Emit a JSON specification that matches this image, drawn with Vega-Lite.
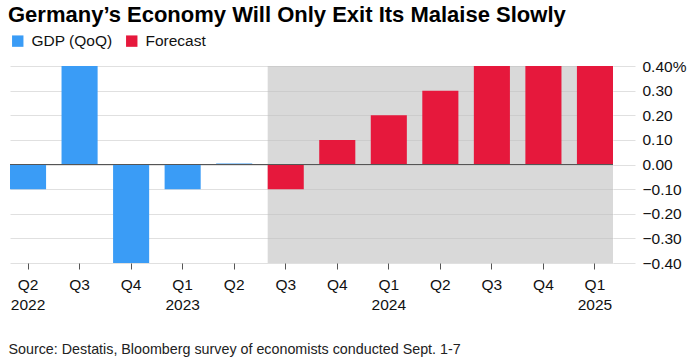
{
  "$schema": "https://vega.github.io/schema/vega-lite/v6.json",
  "autosize": "none",
  "width": 603,
  "height": 197,
  "padding": {"left": 10, "top": 66, "right": 83, "bottom": 100},
  "background": "white",
  "config": {
    "view": {"stroke": null},
    "font": "Liberation Sans",
    "text": {"font": "Liberation Sans"},
    "axisX": {
      "domain": false,
      "grid": false,
      "ticks": true,
      "tickColor": "#555555",
      "tickSize": 6,
      "tickWidth": 1,
      "labelAngle": 0,
      "labelAlign": "center",
      "labelPadding": 8,
      "labelFontSize": 15.5,
      "labelColor": "#111111",
      "labelFont": "Liberation Sans",
      "labelBaseline": "top",
      "labelLineHeight": 20,
      "labelOverlap": false,
      "labelBound": false,
      "labelFlush": false,
      "titleAnchor": "start",
      "titleAlign": "left",
      "titleX": -2,
      "titleY": 90,
      "titleBaseline": "alphabetic",
      "titleFontSize": 14.3,
      "titleFontWeight": "normal",
      "titleColor": "#222222",
      "titleFont": "Liberation Sans"
    },
    "axisY": {
      "domain": false,
      "grid": true,
      "gridColor": "#e0e0e0",
      "gridWidth": 1,
      "ticks": true,
      "tickColor": "#e0e0e0",
      "tickSize": 22,
      "labelPadding": 7,
      "labelOverlap": false,
      "labelFontSize": 15.5,
      "labelColor": "#111111",
      "labelFont": "Liberation Sans"
    }
  },
  "title": {
    "text": "Germany’s Economy Will Only Exit Its Malaise Slowly",
    "anchor": "start",
    "frame": "group",
    "baseline": "alphabetic",
    "offset": -11,
    "dx": -2,
    "fontSize": 22,
    "fontWeight": "bold",
    "font": "Liberation Sans",
    "color": "#000000"
  },
  "datasets": {
    "gdp": [
      {"period": "Q2 2022", "value": -0.1, "type": "GDP (QoQ)"},
      {"period": "Q3 2022", "value": 0.4, "type": "GDP (QoQ)"},
      {"period": "Q4 2022", "value": -0.4, "type": "GDP (QoQ)"},
      {"period": "Q1 2023", "value": -0.1, "type": "GDP (QoQ)"},
      {"period": "Q2 2023", "value": 0.004, "type": "GDP (QoQ)"},
      {"period": "Q3 2023", "value": -0.1, "type": "Forecast"},
      {"period": "Q4 2023", "value": 0.1, "type": "Forecast"},
      {"period": "Q1 2024", "value": 0.2, "type": "Forecast"},
      {"period": "Q2 2024", "value": 0.3, "type": "Forecast"},
      {"period": "Q3 2024", "value": 0.4, "type": "Forecast"},
      {"period": "Q4 2024", "value": 0.4, "type": "Forecast"},
      {"period": "Q1 2025", "value": 0.4, "type": "Forecast"}
    ],
    "shade": [
      {"start": "Q3 2023", "end": "Q1 2025"}
    ]
  },
  "layer": [
    {
      "data": {"name": "shade"},
      "mark": {"type": "rect", "color": "#bebebe", "opacity": 0.58},
      "encoding": {
        "x": {
          "field": "start",
          "type": "ordinal",
          "bandPosition": 0,
          "title": "Source: Destatis, Bloomberg survey of economists conducted Sept. 1-7",
          "axis": {
            "bandPosition": 0.5,
            "labelExpr": "indexof(['Q2 2022','Q1 2023','Q1 2024','Q1 2025'], datum.value) >= 0 ? split(datum.value, ' ') : slice(datum.value, 0, 2)"
          }
        },
        "x2": {"field": "end", "bandPosition": 1},
        "y": {
          "datum": 0.4,
          "type": "quantitative",
          "title": null,
          "axis": {
            "orient": "right",
            "values": [-0.4, -0.3, -0.2, -0.1, 0, 0.1, 0.2, 0.3, 0.4],
            "labelExpr": "datum.value > 0.39 ? '0.40%' : format(datum.value, '.2f')"
          }
        },
        "y2": {"datum": -0.4}
      }
    },
    {
      "data": {"name": "gdp"},
      "mark": {"type": "bar"},
      "encoding": {
        "x": {
          "field": "period",
          "type": "ordinal",
          "sort": null,
          "title": "Source: Destatis, Bloomberg survey of economists conducted Sept. 1-7",
          "scale": {
            "domain": ["Q2 2022", "Q3 2022", "Q4 2022", "Q1 2023", "Q2 2023", "Q3 2023", "Q4 2023", "Q1 2024", "Q2 2024", "Q3 2024", "Q4 2024", "Q1 2025"],
            "paddingInner": 0.3,
            "paddingOuter": 0
          },
          "axis": {
            "bandPosition": 0.5,
            "labelExpr": "indexof(['Q2 2022','Q1 2023','Q1 2024','Q1 2025'], datum.value) >= 0 ? split(datum.value, ' ') : slice(datum.value, 0, 2)"
          }
        },
        "y": {
          "field": "value",
          "type": "quantitative",
          "title": null,
          "scale": {"domain": [-0.4, 0.4], "nice": false, "zero": false},
          "axis": {
            "orient": "right",
            "values": [-0.4, -0.3, -0.2, -0.1, 0, 0.1, 0.2, 0.3, 0.4],
            "labelExpr": "datum.value > 0.39 ? '0.40%' : format(datum.value, '.2f')"
          }
        },
        "color": {
          "field": "type",
          "type": "nominal",
          "scale": {"domain": ["GDP (QoQ)", "Forecast"], "range": ["#3a9cf6", "#e6183c"]},
          "legend": {
            "title": null,
            "orient": "none",
            "legendX": 0,
            "legendY": -33,
            "direction": "horizontal",
            "symbolType": "square",
            "symbolSize": 130,
            "symbolStrokeWidth": 0,
            "labelFontSize": 15.5,
            "labelColor": "#111111",
            "labelFont": "Liberation Sans",
            "labelOffset": 6,
            "columnPadding": 11,
            "padding": 0
          }
        }
      }
    },
    {
      "data": {"name": "gdp"},
      "mark": {"type": "rule", "color": "#555555", "strokeWidth": 1},
      "encoding": {
        "y": {
          "datum": 0,
          "type": "quantitative",
          "title": null,
          "axis": {
            "orient": "right",
            "values": [-0.4, -0.3, -0.2, -0.1, 0, 0.1, 0.2, 0.3, 0.4],
            "labelExpr": "datum.value > 0.39 ? '0.40%' : format(datum.value, '.2f')"
          }
        }
      }
    }
  ]
}
